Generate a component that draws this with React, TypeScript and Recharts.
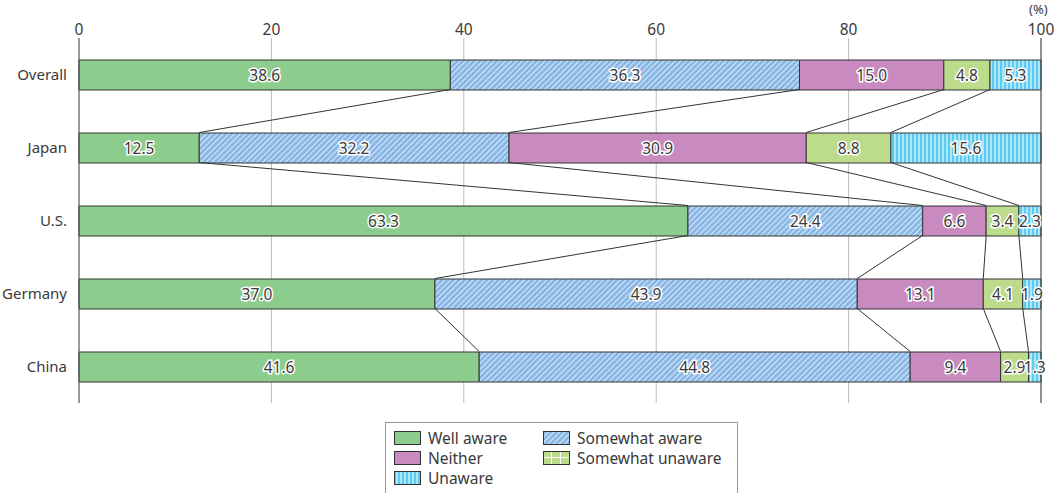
import { BarChart, Bar, XAxis, YAxis, CartesianGrid, LabelList, ReferenceLine } from 'recharts';

const categories = ['Overall', 'Japan', 'U.S.', 'Germany', 'China'];
const wellAware = [38.6, 12.5, 63.3, 37.0, 41.6];
const somewhatAware = [36.3, 32.2, 24.4, 43.9, 44.8];
const neither = [15.0, 30.9, 6.6, 13.1, 9.4];
const somewhatUnaware = [4.8, 8.8, 3.4, 4.1, 2.9];
const unaware = [5.3, 15.6, 2.3, 1.9, 1.3];
const xTicks = [0, 20, 40, 60, 80, 100];

const series = [
  { key: 'wellAware', name: 'Well aware', values: wellAware, fill: '#8ccc8c' },
  { key: 'somewhatAware', name: 'Somewhat aware', values: somewhatAware, fill: 'url(#hatchBlue)' },
  { key: 'neither', name: 'Neither', values: neither, fill: '#c98bbf' },
  { key: 'somewhatUnaware', name: 'Somewhat unaware', values: somewhatUnaware, fill: '#bcdc8c' },
  { key: 'unaware', name: 'Unaware', values: unaware, fill: 'url(#stripeCyan)' },
];

const data = categories.map((name, i) => {
  const row: Record<string, string | number> = { name };
  series.forEach(s => { row[s.key] = s.values[i]; });
  return row;
});

// cumulative boundaries per row, for the connector lines between bars
const bounds = categories.map((_, i) => {
  let acc = 0;
  return series.slice(0, 4).map(s => (acc += s.values[i]));
});

const BAR = 30;

const connectors: { x1: number; c1: string; x2: number; c2: string }[] = [];
for (let i = 0; i < categories.length - 1; i++) {
  bounds[i].forEach((b, k) => {
    connectors.push({ x1: b, c1: categories[i], x2: bounds[i + 1][k], c2: categories[i + 1] });
  });
}

// segment ends sit on band centres; push them to the bar edges
const ConnectorShape = (p: any) => (
  <line x1={p.x1} y1={p.y1 + BAR / 2} x2={p.x2} y2={p.y2 - BAR / 2} stroke="#333" strokeWidth={1} />
);

const legendRows = [
  [series[0], series[1]],
  [series[2], series[3]],
  [series[4]],
];

const fmt = (v: any) => Number(v).toFixed(1);

function Swatch({ k, fill }: { k: string; fill: string }) {
  const f = k === 'somewhatUnaware' ? 'url(#gridGreen)' : fill;
  return (
    <svg width={27} height={14} style={{ display: 'block' }}>
      <rect x={0.5} y={0.5} width={26} height={13} fill={f} stroke="#333" />
    </svg>
  );
}

export default function App() {
  return (
    <div style={{ position: 'absolute', left: 0, top: 0, width: 1057, height: 493, background: '#fff', fontFamily: '"Noto Sans", sans-serif', color: '#3a3a3a', overflow: 'hidden' }}>
      <svg width={0} height={0} style={{ position: 'absolute' }}>
        <defs>
          <pattern id="hatchBlue" patternUnits="userSpaceOnUse" width={4} height={4} patternTransform="rotate(45)">
            <rect width={4} height={4} fill="#8ab8e6" />
            <line x1={0} y1={0} x2={0} y2={4} stroke="#fff" strokeWidth={1.4} />
          </pattern>
          <pattern id="stripeCyan" patternUnits="userSpaceOnUse" width={4} height={4}>
            <rect width={4} height={4} fill="#5ccbf2" />
            <line x1={3} y1={0} x2={3} y2={4} stroke="#fff" strokeWidth={1} />
          </pattern>
          <pattern id="gridGreen" patternUnits="userSpaceOnUse" width={9} height={7}>
            <rect width={9} height={7} fill="#bcdc8c" />
            <line x1={8.5} y1={0} x2={8.5} y2={7} stroke="#fff" strokeWidth={1} />
            <line x1={0} y1={6.5} x2={9} y2={6.5} stroke="#fff" strokeWidth={1} />
          </pattern>
        </defs>
      </svg>

      <div style={{ position: 'absolute', left: 1029, top: 2, fontSize: 13, lineHeight: '15px' }}>(%)</div>

      <BarChart
        width={1057}
        height={420}
        data={data}
        layout="vertical"
        margin={{ top: 8, right: 16, bottom: 17, left: 0 }}
        barSize={BAR}
      >
        <CartesianGrid horizontal={false} stroke="#bdbdbd" />
        <XAxis
          type="number"
          orientation="top"
          domain={[0, 100]}
          ticks={xTicks}
          axisLine={false}
          tickLine={false}
          tickSize={0}
          tickMargin={3}
          height={30}
          tick={{ fontSize: 15.5, fill: '#3a3a3a' }}
        />
        <YAxis
          type="category"
          dataKey="name"
          width={79}
          axisLine={{ stroke: '#555' }}
          tickLine={false}
          tick={{ fontSize: 15, fill: '#3a3a3a' }}
          tickMargin={6}
        />
        <ReferenceLine x={100} stroke="#555" />
        {series.map(s => (
          <Bar key={s.key} dataKey={s.key} name={s.name} stackId="a" fill={s.fill} stroke="#333" strokeWidth={1} isAnimationActive={false}>
            <LabelList
              dataKey={s.key}
              position="center"
              formatter={fmt}
              fill="#3a3a3a"
              stroke="#fff"
              strokeWidth={3}
              paintOrder="stroke"
              fontSize={15.5}
            />
          </Bar>
        ))}
        {connectors.map((c, i) => (
          <ReferenceLine
            key={i}
            segment={[{ x: c.x1, y: c.c1 }, { x: c.x2, y: c.c2 }]}
            shape={ConnectorShape}
            ifOverflow="visible"
          />
        ))}
      </BarChart>

      <div style={{ position: 'absolute', left: 385, top: 422, width: 353, height: 80, border: '1px solid #999', boxSizing: 'border-box', padding: '5px 0 0 8px', fontSize: 15.5 }}>
        {legendRows.map((row, r) => (
          <div key={r} style={{ display: 'flex', height: 20, alignItems: 'center' }}>
            {row.map((s, j) => (
              <div key={s.key} style={{ display: 'flex', alignItems: 'center', width: j === 0 ? 149 : 'auto', whiteSpace: 'nowrap' }}>
                <Swatch k={s.key} fill={s.fill} />
                <span style={{ marginLeft: 7 }}>{s.name}</span>
              </div>
            ))}
          </div>
        ))}
      </div>
    </div>
  );
}
